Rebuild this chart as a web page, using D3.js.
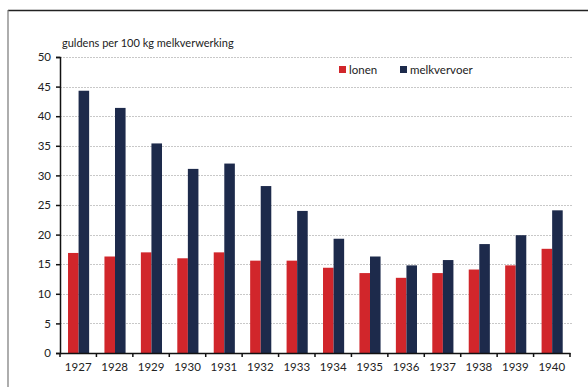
<!DOCTYPE html>
<html><head><meta charset="utf-8">
<script src="https://cdn.jsdelivr.net/npm/d3@7"></script>
<style>html,body{margin:0;padding:0;background:#fff;}svg{display:block;}</style>
</head><body>
<script>
const years = ["1927","1928","1929","1930","1931","1932","1933","1934","1935","1936","1937","1938","1939","1940"];
const lonen = [16.9,16.3,17.0,16.0,17.0,15.6,15.6,14.4,13.5,12.7,13.5,14.1,14.8,17.6];
const melkvervoer = [44.3,41.4,35.4,31.1,32.0,28.2,24.0,19.3,16.3,14.8,15.7,18.4,19.9,24.1];
const yTicks = [0,5,10,15,20,25,30,35,40,45,50];
const seriesNames = ["lonen","melkvervoer"];
const colors = ["#d1262b","#1d2a4b"];
const yTitle = "guldens per 100 kg melkverwerking";

const W=588,H=387;
const m={left:60,right:18,top:57,bottom:34};
const svg=d3.select("body").append("svg").attr("width",W).attr("height",H);
const font="Lato, 'Open Sans', sans-serif";

// frame
svg.append("line").attr("x1",8).attr("x2",W).attr("y1",10.5).attr("y2",10.5).attr("stroke","#222").attr("stroke-width",1.6);
svg.append("line").attr("x1",8).attr("x2",8).attr("y1",10).attr("y2",H).attr("stroke","#777").attr("stroke-width",1.2);

const x=d3.scaleBand().domain(years).range([m.left,W-m.right]).paddingInner(0).paddingOuter(0);
const y=d3.scaleLinear().domain([0,50]).range([H-m.bottom,m.top]);
const x1=d3.scaleBand().domain(seriesNames).range([x.bandwidth()*0.22,x.bandwidth()*0.80]).padding(0);

// grid
svg.append("g").selectAll("line").data(yTicks.filter(d=>d>0)).join("line")
 .attr("x1",m.left).attr("x2",W-m.right+2).attr("y1",d=>Math.round(y(d))+0.5).attr("y2",d=>Math.round(y(d))+0.5)
 .attr("stroke","#c8c8c8").attr("stroke-width",1).attr("stroke-dasharray","2,1");

// bars
const data=years.map((yr,i)=>({yr,vals:[lonen[i],melkvervoer[i]]}));
const g=svg.append("g");
g.selectAll("g").data(data).join("g").attr("transform",d=>`translate(${x(d.yr)},0)`)
 .selectAll("rect").data(d=>d.vals.map((v,j)=>({v,j}))).join("rect")
 .attr("x",d=>x1(seriesNames[d.j])).attr("width",x1.bandwidth())
 .attr("y",d=>y(d.v)).attr("height",d=>y(0)-y(d.v)).attr("fill",d=>colors[d.j]);

// y axis
const ya=svg.append("g").attr("transform",`translate(${m.left},0)`)
 .call(d3.axisLeft(y).tickValues(yTicks).tickSize(4).tickPadding(5));
ya.select(".domain").attr("stroke","#111").attr("stroke-width",1.5);
ya.selectAll(".tick line").attr("stroke","#111").attr("stroke-width",1.5);
ya.selectAll("text").attr("font-family",font).attr("font-size",11.5).attr("fill","#222");

// x axis
const xa=svg.append("g").attr("transform",`translate(0,${y(0)})`)
 .call(d3.axisBottom(x).tickSize(0).tickPadding(10));
xa.select(".domain").attr("stroke","#111").attr("stroke-width",1.5);
xa.selectAll("text").attr("font-family",font).attr("font-size",11.5).attr("fill","#222");
// tick marks at band boundaries
svg.append("g").selectAll("line").data(years.map((d,i)=>x(d)).concat([W-m.right]))
 .join("line").attr("x1",d=>d).attr("x2",d=>d).attr("y1",y(0)).attr("y2",y(0)+4)
 .attr("stroke","#111").attr("stroke-width",1.5);

// title
svg.append("text").attr("x",62).attr("y",47).attr("font-family",font).attr("font-size",11).attr("fill","#222").text(yTitle);

// legend
const lx=[339,400];
const lg=svg.append("g").selectAll("g").data(seriesNames).join("g").attr("transform",(d,i)=>`translate(${lx[i]},70)`);
lg.append("rect").attr("x",0).attr("y",-4).attr("width",7).attr("height",7).attr("fill",(d,i)=>colors[i]);
lg.append("text").attr("x",10).attr("y",4).attr("font-family",font).attr("font-size",11.5).attr("fill","#222").text(d=>d);
</script>
</body></html>
